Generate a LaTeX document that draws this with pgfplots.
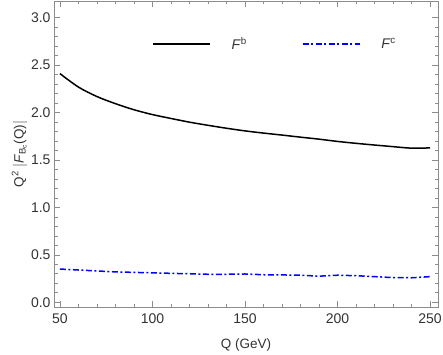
\documentclass[border=0pt]{standalone}
\usepackage{pgfplots}
\pgfplotsset{compat=1.18}
\usepackage{fontspec}
\setmainfont{Liberation Sans}
\definecolor{framegray}{gray}{0.55}
\definecolor{labgray}{gray}{0.2}
\begin{document}
\begin{tikzpicture}
\path[use as bounding box] (-54pt,-47pt) rectangle (389pt,307pt);
\begin{axis}[
  scale only axis,
  width=384pt, height=306pt,
  xmin=46.8, xmax=254.3, ymin=-0.05, ymax=3.175,
  xtick={50,100,150,200,250},
  ytick={0,0.5,1,1.5,2,2.5,3},
  minor x tick num=4, minor y tick num=4,
  tick align=inside,
  major tick length=6pt, minor tick length=3.5pt,
  axis line style={framegray, line width=0.8pt},
  every tick/.style={framegray, line width=0.6pt},
  /pgf/number format/assume math mode=true,
  yticklabel style={/pgf/number format/.cd, fixed, fixed zerofill, precision=1},
  xticklabel style={yshift=-3pt, /pgf/number format/.cd, fixed, precision=0},
  tick label style={font=\fontsize{14}{16}\selectfont, text=labgray},
  label style={font=\fontsize{13.5}{16}\selectfont, text=labgray},
  xlabel={Q (GeV)},
  ylabel={Q\textsuperscript{2} $|$\textit{F}\textsubscript{\kern-0.5pt B\textsubscript{c}}(Q)$|$},
  xlabel style={yshift=-8pt},
  ylabel style={yshift=-3pt},
  legend columns=2,
  legend style={draw=none, fill=none, at={(rel axis cs:0.255,0.859)}, anchor=west, inner sep=0pt,
    font=\fontsize{14}{16}\selectfont, nodes={inner sep=0pt, text=labgray}},
  /tikz/every odd column/.append style={column sep=21pt},
  /tikz/every even column/.append style={column sep=55pt},
  legend image code/.code={\draw[#1] (0pt,0pt) -- (57pt,0pt);},
]
\addplot[black, line width=1.5pt, smooth] coordinates {
(50,2.41) (60,2.268) (70,2.168) (80,2.093) (90,2.029) (100,1.978) (110,1.937) (120,1.898) (130,1.865) (140,1.834) (150,1.806) (160,1.783) (170,1.762) (180,1.740) (190,1.719) (200,1.695) (210,1.675) (220,1.657) (230,1.640) (240,1.624) (250,1.627)
};
\addlegendentry{\textit{F}\textsuperscript{b}}
\addplot[blue, line width=1.5pt, dash pattern=on 6pt off 2.5pt on 2pt off 2.5pt] coordinates {
(50,0.35) (60,0.34) (70,0.33) (80,0.32) (90,0.315) (100,0.31) (110,0.305) (120,0.30) (130,0.295) (140,0.295) (150,0.298) (160,0.29) (170,0.288) (180,0.285) (190,0.275) (200,0.285) (210,0.28) (220,0.27) (230,0.26) (240,0.258) (250,0.27)
};
\addlegendentry{\textit{F}\textsuperscript{c}}
\end{axis}
\end{tikzpicture}
\end{document}
